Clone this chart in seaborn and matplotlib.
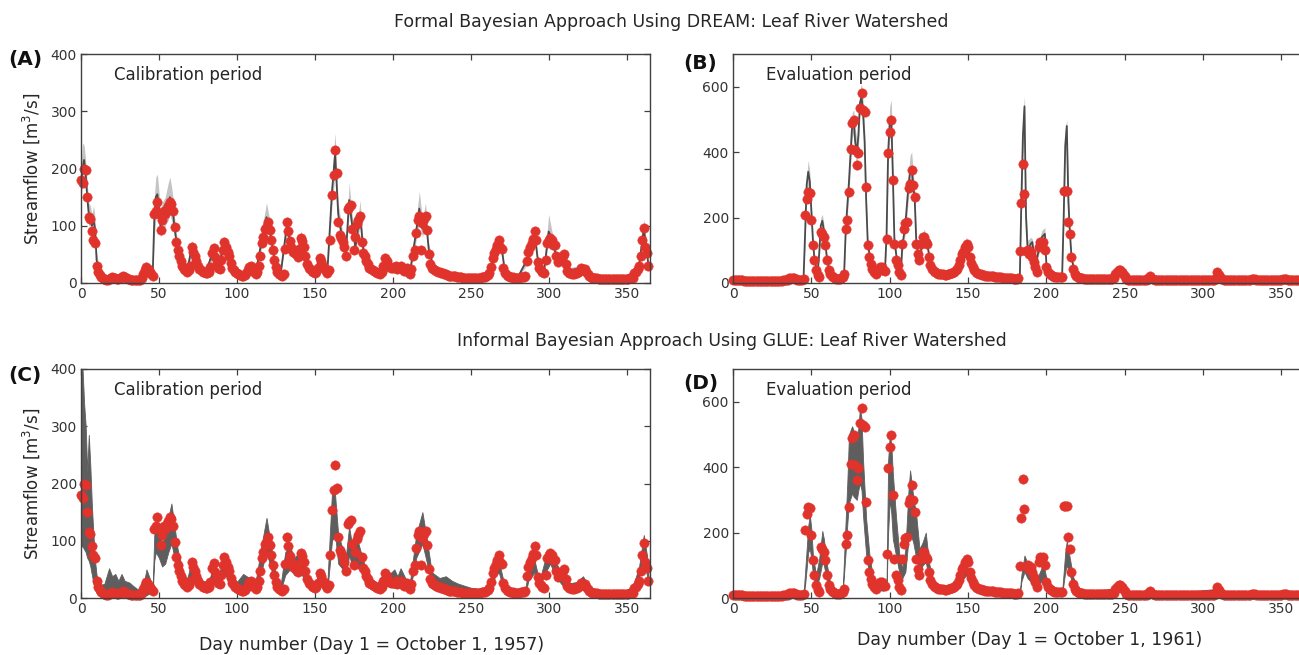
import numpy as np
import matplotlib
matplotlib.use("Agg")
import matplotlib.pyplot as plt
import seaborn as sns

# ---------------- data ----------------
# observed daily streamflow, water year starting Oct 1, 1957 (calibration)
obs_1957 = [
    180, 175, 200, 198, 150, 115, 112, 90, 75, 70,
    30, 20, 14, 10, 8, 7, 6, 6, 7, 8,
    10, 9, 8, 7, 7, 8, 10, 12, 10, 8,
    7, 7, 6, 6, 6, 6, 5, 5, 6, 8,
    15, 22, 28, 25, 20, 15, 12, 120, 125, 142,
    120, 93, 110, 125, 120, 130, 135, 142, 138, 125,
    97, 72, 58, 48, 39, 30, 25, 22, 20, 22,
    30, 63, 55, 47, 39, 30, 25, 22, 20, 20,
    18, 17, 20, 28, 52, 62, 45, 35, 27, 25,
    40, 58, 72, 63, 55, 47, 35, 27, 22, 20,
    17, 15, 14, 13, 13, 14, 17, 22, 28, 30,
    25, 20, 16, 20, 30, 47, 70, 81, 95, 100,
    107, 93, 75, 58, 40, 28, 20, 16, 14, 13,
    15, 60, 107, 90, 73, 63, 55, 52, 50, 45,
    60, 78, 73, 63, 47, 33, 27, 24, 21, 20,
    18, 20, 27, 44, 38, 30, 27, 21, 18, 22,
    75, 154, 189, 233, 192, 107, 84, 78, 72, 63,
    47, 130, 133, 136, 95, 58, 80, 103, 110, 117,
    72, 52, 47, 39, 33, 27, 25, 23, 21, 20,
    18, 17, 16, 20, 30, 44, 39, 30, 28, 27,
    27, 28, 30, 24, 26, 30, 25, 21, 24, 27,
    20, 16, 25, 47, 58, 87, 110, 117, 58, 105,
    112, 117, 93, 50, 33, 27, 25, 23, 21, 20,
    19, 18, 17, 16, 15, 14, 13, 13, 12, 12,
    12, 11, 11, 10, 10, 9, 9, 9, 8, 8,
    8, 8, 8, 8, 8, 9, 9, 10, 10, 11,
    12, 14, 18, 28, 44, 52, 60, 66, 75, 63,
    60, 27, 18, 14, 12, 11, 10, 10, 9, 9,
    9, 9, 10, 10, 11, 13, 39, 55, 63, 70,
    77, 91, 75, 36, 27, 22, 20, 18, 40, 69,
    75, 78, 75, 66, 66, 47, 36, 40, 44, 48,
    50, 33, 21, 18, 17, 16, 16, 17, 18, 20,
    21, 27, 25, 24, 20, 16, 13, 10, 9, 8,
    8, 8, 7, 7, 7, 7, 7, 7, 7, 7,
    7, 7, 7, 7, 7, 7, 7, 7, 7, 7,
    7, 7, 8, 8, 9, 18, 20, 24, 30, 47,
    75, 96, 63, 52, 30,
]

# observed daily streamflow, water year starting Oct 1, 1961 (evaluation)
obs_1961 = [
    8, 8, 9, 9, 8, 8, 8, 7, 7, 7,
    7, 7, 7, 7, 6, 6, 6, 6, 6, 6,
    6, 6, 6, 6, 6, 6, 6, 6, 7, 7,
    7, 7, 8, 8, 9, 10, 14, 16, 16, 14,
    12, 10, 9, 9, 10, 12, 207, 258, 279, 274,
    192, 115, 69, 39, 24, 18, 156, 151, 141, 115,
    69, 39, 28, 22, 18, 15, 13, 12, 12, 14,
    18, 29, 166, 192, 279, 411, 488, 498, 406, 360,
    396, 534, 580, 529, 523, 294, 115, 80, 59, 44,
    34, 29, 35, 44, 48, 49, 40, 37, 136, 396,
    462, 498, 314, 120, 69, 54, 34, 24, 120, 166,
    182, 187, 289, 304, 345, 299, 263, 120, 90, 69,
    120, 141, 141, 125, 120, 80, 54, 44, 38, 34,
    31, 29, 28, 27, 26, 25, 25, 26, 28, 30,
    32, 35, 39, 44, 55, 70, 90, 95, 110, 120,
    110, 80, 60, 49, 40, 34, 30, 28, 26, 24,
    23, 22, 21, 20, 22, 21, 20, 19, 18, 18,
    17, 17, 16, 16, 15, 15, 14, 14, 14, 13,
    13, 13, 14, 98, 245, 365, 272, 98, 100, 90,
    95, 80, 64, 49, 34, 110, 125, 120, 125, 100,
    49, 34, 28, 23, 20, 19, 18, 18, 17, 17,
    18, 282, 280, 282, 187, 151, 80, 44, 29, 22,
    18, 16, 15, 14, 13, 13, 13, 13, 13, 13,
    13, 13, 13, 13, 13, 13, 13, 13, 13, 13,
    13, 13, 13, 14, 29, 35, 39, 39, 33, 29,
    20, 13, 10, 10, 10, 10, 10, 10, 10, 10,
    10, 10, 10, 10, 10, 15, 20, 15, 11, 9,
    8, 8, 8, 8, 8, 8, 8, 8, 8, 8,
    8, 8, 8, 8, 8, 9, 9, 8, 8, 8,
    8, 8, 8, 8, 8, 8, 8, 8, 8, 8,
    8, 8, 8, 8, 8, 8, 8, 9, 14, 34,
    25, 18, 12, 9, 8, 8, 8, 8, 8, 8,
    8, 8, 8, 8, 8, 8, 8, 8, 8, 9,
    10, 12, 13, 11, 9, 8, 8, 8, 8, 8,
    8, 8, 8, 8, 8, 8, 8, 8, 8, 9,
    10, 12, 13, 11, 9, 8, 8, 8, 8, 8,
    8, 8, 8, 8, 8,
]

# DREAM (formal) simulation, calibration period: keypoint days, mean, lower, upper
a_days = [0, 1, 2, 3, 4, 5, 6, 7, 8, 9,
          10, 12, 15, 25, 40, 43, 45, 46, 47, 48,
          49, 50, 51, 52, 54, 56, 57, 58, 59, 60,
          62, 65, 68, 71, 73, 77, 80, 85, 88, 92,
          95, 100, 105, 109, 112, 117, 119, 121, 124, 128,
          132, 135, 139, 141, 145, 150, 153, 158, 161, 163,
          165, 168, 170, 172, 174, 176, 179, 181, 185, 190,
          195, 200, 205, 211, 215, 217, 219, 221, 223, 226,
          235, 250, 262, 266, 268, 270, 272, 280, 286, 291,
          293, 297, 300, 302, 305, 309, 312, 322, 328, 345,
          355, 358, 361, 363, 364]
a_mid = [170, 200, 215, 190, 150, 120, 115, 100, 110, 95,
         40, 15, 8, 8, 7, 22, 25, 15, 110, 150,
         155, 130, 100, 115, 125, 140, 150, 140, 125, 95,
         60, 32, 20, 62, 48, 23, 18, 58, 28, 70,
         48, 17, 14, 30, 17, 90, 115, 95, 42, 14,
         100, 62, 46, 80, 35, 18, 45, 18, 160, 225,
         120, 72, 55, 145, 100, 62, 120, 60, 28, 18,
         42, 28, 30, 18, 90, 130, 95, 120, 60, 28,
         15, 10, 15, 58, 72, 58, 18, 9, 40, 88,
         40, 20, 90, 78, 45, 48, 22, 26, 10, 7,
         18, 30, 95, 55, 30]
a_lo = [150, 170, 180, 160, 130, 100, 100, 85, 90, 75,
        30, 10, 5, 5, 5, 15, 18, 10, 80, 110,
        120, 100, 80, 90, 100, 110, 120, 110, 100, 80,
        50, 25, 16, 50, 40, 18, 14, 45, 22, 58,
        40, 13, 11, 24, 13, 75, 95, 80, 35, 11,
        85, 52, 38, 68, 28, 14, 38, 14, 135, 190,
        100, 60, 45, 120, 85, 52, 100, 50, 22, 14,
        35, 22, 24, 14, 75, 105, 80, 100, 50, 22,
        12, 7, 11, 48, 60, 48, 14, 7, 32, 75,
        32, 16, 75, 65, 38, 40, 18, 20, 8, 5,
        14, 24, 80, 45, 24]
a_hi = [200, 245, 240, 215, 175, 140, 135, 120, 135, 115,
        55, 20, 10, 11, 10, 30, 32, 22, 150, 185,
        190, 160, 125, 140, 150, 175, 185, 170, 150, 115,
        70, 40, 25, 75, 55, 28, 22, 68, 34, 82,
        56, 21, 18, 36, 21, 110, 140, 112, 50, 18,
        115, 72, 54, 92, 42, 22, 52, 22, 190, 262,
        140, 85, 65, 175, 118, 72, 145, 70, 34, 22,
        50, 34, 36, 22, 110, 160, 112, 140, 70, 34,
        18, 13, 19, 68, 82, 68, 22, 12, 48, 100,
        48, 24, 120, 92, 54, 56, 26, 32, 13, 9,
        22, 36, 112, 65, 36]

# DREAM (formal) simulation, evaluation period
b_days = [0, 35, 38, 42, 45, 46, 47, 48, 49, 50,
          51, 52, 54, 55, 56, 57, 58, 59, 60, 62,
          66, 70, 71, 72, 74, 76, 77, 78, 79, 80,
          81, 82, 83, 84, 85, 86, 88, 91, 95, 97,
          98, 99, 100, 101, 102, 103, 105, 107, 108, 110,
          112, 113, 114, 115, 116, 117, 119, 121, 122, 124,
          126, 130, 140, 144, 147, 149, 151, 154, 160, 183,
          184, 185, 186, 187, 188, 190, 191, 193, 195, 197,
          199, 200, 203, 210, 211, 212, 213, 214, 215, 216,
          218, 222, 243, 245, 248, 251, 265, 266, 268, 308,
          309, 311, 364]
b_mid = [8, 8, 16, 10, 12, 150, 300, 340, 310, 220,
         130, 70, 30, 90, 175, 190, 160, 120, 70, 30,
         14, 16, 40, 170, 310, 480, 500, 430, 400, 450,
         550, 570, 520, 430, 250, 120, 60, 30, 45, 40,
         150, 400, 490, 500, 330, 130, 55, 25, 110, 180,
         300, 340, 350, 300, 250, 120, 70, 130, 145, 120,
         55, 30, 30, 45, 95, 120, 85, 40, 23, 14,
         250, 450, 540, 200, 100, 120, 125, 50, 100, 140,
         150, 55, 24, 18, 200, 420, 480, 250, 150, 80,
         30, 15, 13, 35, 35, 13, 12, 22, 11, 8,
         35, 15, 8]
b_lo = [6, 6, 12, 8, 9, 120, 260, 300, 270, 190,
        110, 60, 24, 75, 150, 165, 140, 100, 60, 25,
        11, 12, 32, 145, 270, 440, 460, 390, 360, 410,
        510, 530, 480, 390, 220, 100, 50, 25, 38, 33,
        125, 360, 440, 450, 290, 110, 45, 20, 90, 155,
        260, 300, 310, 260, 220, 100, 60, 110, 125, 100,
        45, 25, 24, 38, 80, 100, 70, 33, 18, 11,
        200, 380, 500, 170, 85, 100, 100, 40, 85, 120,
        125, 45, 19, 14, 160, 370, 440, 200, 125, 65,
        24, 12, 10, 28, 28, 10, 9, 17, 8, 6,
        28, 12, 6]
b_hi = [10, 11, 20, 13, 15, 180, 330, 375, 340, 250,
        150, 85, 38, 110, 200, 210, 180, 140, 85, 36,
        18, 20, 50, 195, 340, 520, 530, 470, 440, 490,
        590, 610, 560, 470, 280, 140, 72, 36, 54, 48,
        175, 440, 540, 560, 370, 150, 65, 30, 130, 205,
        340, 390, 400, 340, 285, 140, 82, 150, 165, 140,
        65, 36, 36, 54, 115, 140, 100, 48, 28, 18,
        300, 520, 570, 240, 130, 140, 135, 60, 120, 160,
        170, 65, 29, 22, 260, 470, 500, 300, 175, 95,
        36, 18, 16, 45, 45, 16, 16, 28, 14, 10,
        42, 18, 10]

# GLUE (informal) uncertainty band, calibration period
c_days = [0, 1, 2, 3, 4, 5, 6, 7, 8, 9,
          10, 12, 15, 18, 20, 22, 24, 26, 28, 31,
          34, 37, 40, 42, 44, 46, 47, 48, 50, 52,
          54, 56, 58, 60, 62, 65, 68, 71, 74, 78,
          82, 85, 88, 92, 96, 100, 104, 108, 112, 116,
          119, 122, 125, 128, 131, 134, 137, 141, 145, 150,
          153, 158, 161, 163, 165, 168, 170, 172, 174, 177,
          180, 184, 190, 195, 198, 201, 203, 205, 208, 211,
          215, 219, 222, 225, 230, 234, 238, 242, 250, 258,
          262, 266, 268, 271, 275, 285, 287, 291, 294, 298,
          301, 304, 308, 312, 318, 322, 326, 332, 345, 354,
          358, 361, 363, 364]
c_lo = [90, 90, 85, 80, 70, 65, 55, 40, 25, 15,
        10, 5, 4, 4, 4, 3, 3, 3, 3, 3,
        3, 3, 3, 5, 8, 10, 65, 80, 70, 55,
        60, 80, 95, 70, 45, 25, 18, 35, 28, 16,
        15, 30, 20, 42, 25, 12, 12, 15, 12, 50,
        80, 50, 20, 12, 40, 50, 40, 45, 20, 12,
        25, 12, 100, 110, 60, 50, 40, 75, 55, 55,
        45, 20, 12, 22, 20, 18, 18, 20, 15, 12,
        70, 95, 60, 22, 14, 12, 10, 8, 6, 5,
        12, 40, 45, 15, 8, 8, 30, 45, 18, 45,
        60, 40, 25, 14, 12, 15, 8, 4, 4, 8,
        35, 70, 40, 25]
c_hi = [390, 400, 340, 300, 220, 285, 230, 160, 110, 65,
        40, 22, 25, 52, 38, 42, 30, 42, 30, 27,
        20, 14, 22, 50, 35, 20, 110, 120, 125, 95,
        110, 140, 165, 125, 85, 50, 32, 65, 50, 30,
        28, 58, 38, 72, 45, 28, 42, 35, 28, 95,
        140, 90, 40, 22, 80, 90, 70, 85, 42, 25,
        45, 25, 185, 180, 110, 85, 75, 125, 90, 105,
        75, 40, 25, 48, 42, 50, 38, 52, 35, 28,
        110, 150, 100, 45, 35, 38, 30, 25, 18, 15,
        30, 60, 65, 30, 15, 15, 52, 65, 30, 70,
        82, 65, 45, 25, 28, 38, 20, 12, 8, 20,
        55, 110, 75, 45]

# GLUE (informal) uncertainty band, evaluation period
d_days = [0, 36, 40, 45, 46, 47, 48, 49, 50, 51,
          53, 55, 57, 58, 60, 62, 66, 70, 72, 73,
          74, 76, 77, 79, 80, 81, 82, 83, 85, 87,
          89, 92, 96, 98, 99, 100, 101, 102, 104, 106,
          108, 110, 112, 113, 115, 117, 119, 121, 123, 125,
          127, 130, 135, 140, 144, 147, 149, 151, 155, 165,
          183, 184, 186, 188, 190, 193, 195, 198, 200, 203,
          210, 212, 213, 215, 217, 220, 225, 244, 247, 251,
          266, 270, 309, 312, 364]
d_lo = [4, 8, 6, 5, 40, 90, 140, 150, 120, 70,
        35, 60, 110, 100, 50, 25, 12, 15, 150, 230,
        290, 320, 310, 300, 330, 350, 330, 250, 130, 70,
        40, 25, 22, 30, 200, 300, 260, 180, 130, 80,
        60, 80, 180, 200, 170, 120, 80, 100, 110, 60,
        35, 25, 18, 20, 30, 60, 70, 50, 25, 15,
        10, 50, 80, 60, 50, 25, 40, 60, 30, 15,
        10, 80, 100, 70, 35, 18, 10, 15, 20, 8,
        10, 5, 15, 6, 4]
d_hi = [10, 16, 12, 12, 80, 150, 220, 255, 210, 130,
        70, 120, 205, 180, 100, 45, 22, 25, 250, 360,
        500, 525, 510, 480, 520, 580, 550, 420, 240, 135,
        70, 45, 40, 55, 420, 500, 470, 380, 250, 140,
        90, 150, 330, 390, 310, 250, 150, 170, 200, 110,
        65, 40, 28, 32, 50, 95, 100, 75, 40, 25,
        18, 70, 130, 105, 80, 40, 70, 105, 60, 28,
        18, 140, 175, 120, 65, 30, 18, 30, 35, 15,
        20, 10, 28, 12, 8]

x_ticks = [0, 50, 100, 150, 200, 250, 300, 350]
y_ticks_cal = [0, 100, 200, 300, 400]
y_ticks_eval = [0, 200, 400, 600]

title_formal = "Formal Bayesian Approach Using DREAM: Leaf River Watershed"
title_informal = "Informal Bayesian Approach Using GLUE: Leaf River Watershed"
xlabel_1957 = "Day number (Day 1 = October 1, 1957)"
xlabel_1961 = "Day number (Day 1 = October 1, 1961)"
ylabel = "Streamflow [m$^3$/s]"

# ---------------- style ----------------
sns.set_theme(style="ticks")
plt.rcParams["font.family"] = ["DejaVu Sans"]
plt.rcParams.update({
    "xtick.direction": "in", "ytick.direction": "in",
    "xtick.top": True, "ytick.right": True,
    "xtick.major.size": 4, "ytick.major.size": 4,
    "xtick.major.width": 0.9, "ytick.major.width": 0.9,
    "xtick.color": "#404040", "ytick.color": "#404040",
    "xtick.labelcolor": "#333333", "ytick.labelcolor": "#333333",
    "xtick.labelsize": 10, "ytick.labelsize": 10,
    "axes.edgecolor": "#404040", "axes.linewidth": 1.0,
})

RED = "#e0332c"
LIGHT = "#c4c4c4"
DARK = "#4a4a4a"
GLUE = "#5e5e5e"
TXT = "#262626"
DOT = 46

W, H = 1299, 655
fig = plt.figure(figsize=(W / 100, H / 100), dpi=100)
fig.patch.set_facecolor("white")


def ax_at(l, t, r, b):
    return fig.add_axes([l / W, 1 - b / H, (r - l) / W, (b - t) / H])


axA = ax_at(81, 54, 650, 283)
axB = ax_at(733, 54, 1305, 283)
axC = ax_at(81, 369, 650, 598)
axD = ax_at(733, 369, 1305, 598)

days = np.arange(365)

# DREAM panels: light band + dark mean line
for ax, kd, km, kl, kh, obs in [
        (axA, a_days, a_mid, a_lo, a_hi, obs_1957),
        (axB, b_days, b_mid, b_lo, b_hi, obs_1961)]:
    ax.fill_between(kd, kl, kh, color=LIGHT, lw=0, zorder=1)
    sns.lineplot(x=kd, y=km, ax=ax, color=DARK, lw=1.3, zorder=2,
                 legend=False, estimator=None, sort=False)
    sns.scatterplot(x=days, y=obs, ax=ax, color=RED, s=DOT, edgecolor=RED,
                    linewidth=0.3, zorder=3, clip_on=False, legend=False)

# GLUE panels: dark band
for ax, kd, kl, kh, obs in [
        (axC, c_days, c_lo, c_hi, obs_1957),
        (axD, d_days, d_lo, d_hi, obs_1961)]:
    ax.fill_between(kd, kl, kh, color=GLUE, lw=0.6, edgecolor=GLUE, zorder=1)
    sns.scatterplot(x=days, y=obs, ax=ax, color=RED, s=DOT, edgecolor=RED,
                    linewidth=0.3, zorder=3, clip_on=False, legend=False)

for ax in (axA, axC):
    ax.set_ylim(0, 400)
    ax.set_yticks(y_ticks_cal)
for ax in (axB, axD):
    ax.set_ylim(0, 700)
    ax.set_yticks(y_ticks_eval)
for ax in (axA, axB, axC, axD):
    ax.set_xlim(0, 365)
    ax.set_xticks(x_ticks)
    ax.set_xlabel("")
    ax.set_ylabel("")
    ax.tick_params(axis="both", pad=3)
    for s in ax.spines.values():
        s.set_visible(True)
        s.set_zorder(4)

# y-labels
for ax in (axA, axC):
    ax.set_ylabel(ylabel, fontsize=12, color=TXT, labelpad=6)

# in-panel texts
axA.text(0.058, 0.91, "Calibration period", transform=axA.transAxes,
         fontsize=12, color=TXT, va="center")
axC.text(0.058, 0.91, "Calibration period", transform=axC.transAxes,
         fontsize=12, color=TXT, va="center")
axB.text(0.058, 0.91, "Evaluation period", transform=axB.transAxes,
         fontsize=12, color=TXT, va="center")
axD.text(0.058, 0.91, "Evaluation period", transform=axD.transAxes,
         fontsize=12, color=TXT, va="center")

# panel letters
for lbl, x, y in [("(A)", 8, 59), ("(B)", 683, 64), ("(C)", 8, 376), ("(D)", 683, 384)]:
    fig.text(x / W, 1 - y / H, lbl, fontsize=14.5, fontweight="bold",
             color="#111111", ha="left", va="center")

# titles and x labels
fig.text(671 / W, 1 - 22 / H, title_formal, fontsize=12.5, color=TXT,
         ha="center", va="center")
fig.text(732 / W, 1 - 341 / H, title_informal, fontsize=12.5, color=TXT,
         ha="center", va="center")
fig.text(372 / W, 1 - 645 / H, xlabel_1957, fontsize=12.5, color=TXT,
         ha="center", va="center")
fig.text(1030 / W, 1 - 640 / H, xlabel_1961, fontsize=12.5, color=TXT,
         ha="center", va="center")

fig.savefig("out.png", dpi=100, facecolor="white")
